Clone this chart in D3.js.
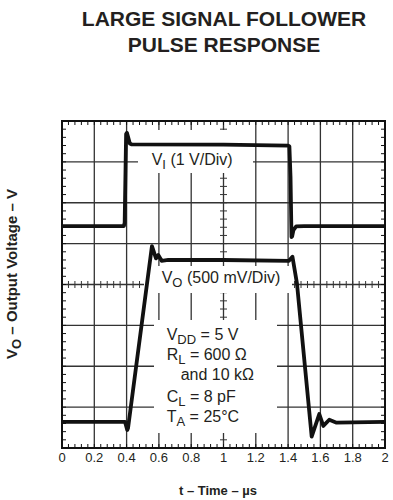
<!DOCTYPE html>
<html>
<head>
<meta charset="utf-8">
<script src="https://cdn.jsdelivr.net/npm/d3@7"></script>
<style>
  body { margin: 0; background: #fff; }
  text { font-family: "Liberation Sans", Arial, sans-serif; fill: #231f20; }
</style>
</head>
<body>
<div id="chart"></div>
<script>
// time axis (us)
var timeTicks = [0, 0.2, 0.4, 0.6, 0.8, 1, 1.2, 1.4, 1.6, 1.8, 2];
var timeLabels = ["0", "0.2", "0.4", "0.6", "0.8", "1", "1.2", "1.4", "1.6", "1.8", "2"];

// input pulse V_I, volts (1 V/Div)
var viTime  = [0, 0.383, 0.388, 0.397, 0.402, 0.42, 0.43, 1.0, 1.40, 1.408, 1.415, 1.421, 1.425, 1.433, 1.45, 1.5, 2.0];
var viVolts = [0, 0, 0.08, 2.25, 2.28, 2.02, 2.0, 1.99, 1.97, 1.95, 1.2, -0.27, -0.25, -0.1, -0.01, 0, 0];

// output V_O, volts (500 mV/Div)
var voTime  = [0, 0.39, 0.404, 0.409, 0.557, 0.582, 0.596, 0.617, 0.658, 1.0, 1.405, 1.427, 1.455, 1.546, 1.593, 1.618, 1.655, 1.70, 2.0];
var voVolts = [0, 0, -0.10, -0.075, 2.15, 2.0, 2.04, 1.97, 1.98, 1.98, 1.97, 2.02, 1.69, -0.18, 0.095, -0.05, 0.025, -0.01, 0];

var viPerDiv = 1, viOffset = 5.43;
var voPerDiv = 0.5, voOffset = 0.64;

var margin = {top: 121, right: 8, bottom: 52, left: 62},
    width = 393 - margin.left - margin.right,
    height = 500 - margin.top - margin.bottom;

var svg = d3.select("#chart")
    .append("svg")
    .attr("width", 393)
    .attr("height", 500)

// title
svg.append("text")
    .attr("x", 224).attr("y", 26)
    .attr("text-anchor", "middle")
    .style("font-weight", "bold").style("font-size", "21px")
    .text("LARGE SIGNAL FOLLOWER")
svg.append("text")
    .attr("x", 224).attr("y", 52)
    .attr("text-anchor", "middle")
    .style("font-weight", "bold").style("font-size", "21px")
    .text("PULSE RESPONSE")

var g = svg.append("g")
    .attr("transform", "translate(" + margin.left + "," + margin.top + ")")

var x = d3.scaleLinear().domain([0, 2]).range([0, width])
var y = d3.scaleLinear().domain([0, 8]).range([height, 0])   // divisions

var gridColor = "#333"

// grid
g.selectAll(".vgrid")
    .data(timeTicks.slice(1, -1))
    .enter().append("line")
    .attr("class", "vgrid")
    .attr("x1", d => x(d)).attr("x2", d => x(d))
    .attr("y1", 0).attr("y2", height)
    .attr("stroke", gridColor).attr("stroke-width", 1.3)

g.selectAll(".hgrid")
    .data(d3.range(1, 8))
    .enter().append("line")
    .attr("class", "hgrid")
    .attr("x1", 0).attr("x2", width)
    .attr("y1", d => y(d)).attr("y2", d => y(d))
    .attr("stroke", gridColor).attr("stroke-width", 1.3)

// minor ticks on the center lines
var minorT = d3.range(0, 50.5).map(i => i * 0.04)
var minorV = d3.range(0, 40.5).map(i => i * 0.2)

g.selectAll(".cticky")
    .data(minorV)
    .enter().append("line")
    .attr("x1", x(1) - 3.5).attr("x2", x(1) + 3.5)
    .attr("y1", d => y(d)).attr("y2", d => y(d))
    .attr("stroke", gridColor).attr("stroke-width", 1)

g.selectAll(".ctickx")
    .data(minorT)
    .enter().append("line")
    .attr("x1", d => x(d)).attr("x2", d => x(d))
    .attr("y1", y(4) - 3.5).attr("y2", y(4) + 3.5)
    .attr("stroke", gridColor).attr("stroke-width", 1)

// white label backgrounds
var boxes = [
    {x: 76, y: 9, w: 115, h: 43},
    {x: 82, y: 145, w: 148, h: 27},
    {x: 92, y: 199, w: 123, h: 113}
]
g.selectAll(".box")
    .data(boxes)
    .enter().append("rect")
    .attr("x", d => d.x).attr("y", d => d.y)
    .attr("width", d => d.w).attr("height", d => d.h)
    .attr("fill", "#fff")

// border minor ticks
g.selectAll(".btick")
    .data(minorT)
    .enter().append("path")
    .attr("d", d => "M" + x(d) + ",0v4M" + x(d) + "," + height + "v-4")
    .attr("stroke", "#111").attr("stroke-width", 1)

g.selectAll(".ltick")
    .data(minorV)
    .enter().append("path")
    .attr("d", d => "M0," + y(d) + "h4M" + width + "," + y(d) + "h-4")
    .attr("stroke", "#111").attr("stroke-width", 1)

g.append("rect")
    .attr("width", width).attr("height", height)
    .attr("fill", "none").attr("stroke", "#111").attr("stroke-width", 2)

// x tick labels
g.selectAll(".tlab")
    .data(timeTicks)
    .enter().append("text")
    .attr("x", d => x(d)).attr("y", height + 14)
    .attr("text-anchor", "middle")
    .style("font-size", "13px")
    .text((d, i) => timeLabels[i])

// label helper: parts of [text, isSubscript]
function label(sel, px, py, parts, size, subSize) {
    var t = sel.append("text").attr("x", px).attr("y", py).style("font-size", size + "px")
    var down = false
    parts.forEach(function(p) {
        var s = t.append("tspan").text(p[0])
        if (p[1] && !down) { s.attr("dy", 4).style("font-size", subSize + "px"); down = true }
        else if (!p[1] && down) { s.attr("dy", -4); down = false }
    })
    return t
}

label(g, 89.7, 44, [["V"], ["I", 1], [" (1 V/Div)"]], 16, 13)
label(g, 99.7, 162.3, [["V"], ["O", 1], [" (500 mV/Div)"]], 16, 13)
label(g, 104.7, 219, [["V"], ["DD", 1], [" = 5 V"]], 16, 13)
label(g, 104.7, 239, [["R"], ["L", 1], [" = 600 \u03A9"]], 16, 13)
label(g, 118.7, 259, [["and 10 k\u03A9"]], 16, 13)
label(g, 104.7, 280.7, [["C"], ["L", 1], [" = 8 pF"]], 16, 13)
label(g, 104.7, 300.7, [["T"], ["A", 1], [" = 25\u00B0C"]], 16, 13)

// axis titles
g.append("text")
    .attr("x", 156).attr("y", height + 47)
    .attr("text-anchor", "middle")
    .style("font-weight", "bold").style("font-size", "13px")
    .text("t \u2013 Time \u2013 \u00B5s")

var yl = svg.append("text")
    .attr("transform", "translate(17,274) rotate(-90)")
    .attr("text-anchor", "middle")
    .style("font-weight", "bold").style("font-size", "15px")
yl.append("tspan").text("V")
yl.append("tspan").text("O").attr("dy", 4).style("font-size", "13px")
yl.append("tspan").text(" \u2013 Output Voltage \u2013 V").attr("dy", -4)

// traces
var viData = viTime.map((t, i) => ({t: t, d: viOffset + viVolts[i] / viPerDiv}))
var voData = voTime.map((t, i) => ({t: t, d: voOffset + voVolts[i] / voPerDiv}))

var line = d3.line()
    .x(d => x(d.t))
    .y(d => y(d.d))

g.append("path")
    .datum(viData)
    .attr("d", line)
    .attr("fill", "none").attr("stroke", "#111")
    .attr("stroke-width", 3.8).attr("stroke-linejoin", "round")

g.append("path")
    .datum(voData)
    .attr("d", line)
    .attr("fill", "none").attr("stroke", "#111")
    .attr("stroke-width", 3.8).attr("stroke-linejoin", "round")
</script>
</body>
</html>
